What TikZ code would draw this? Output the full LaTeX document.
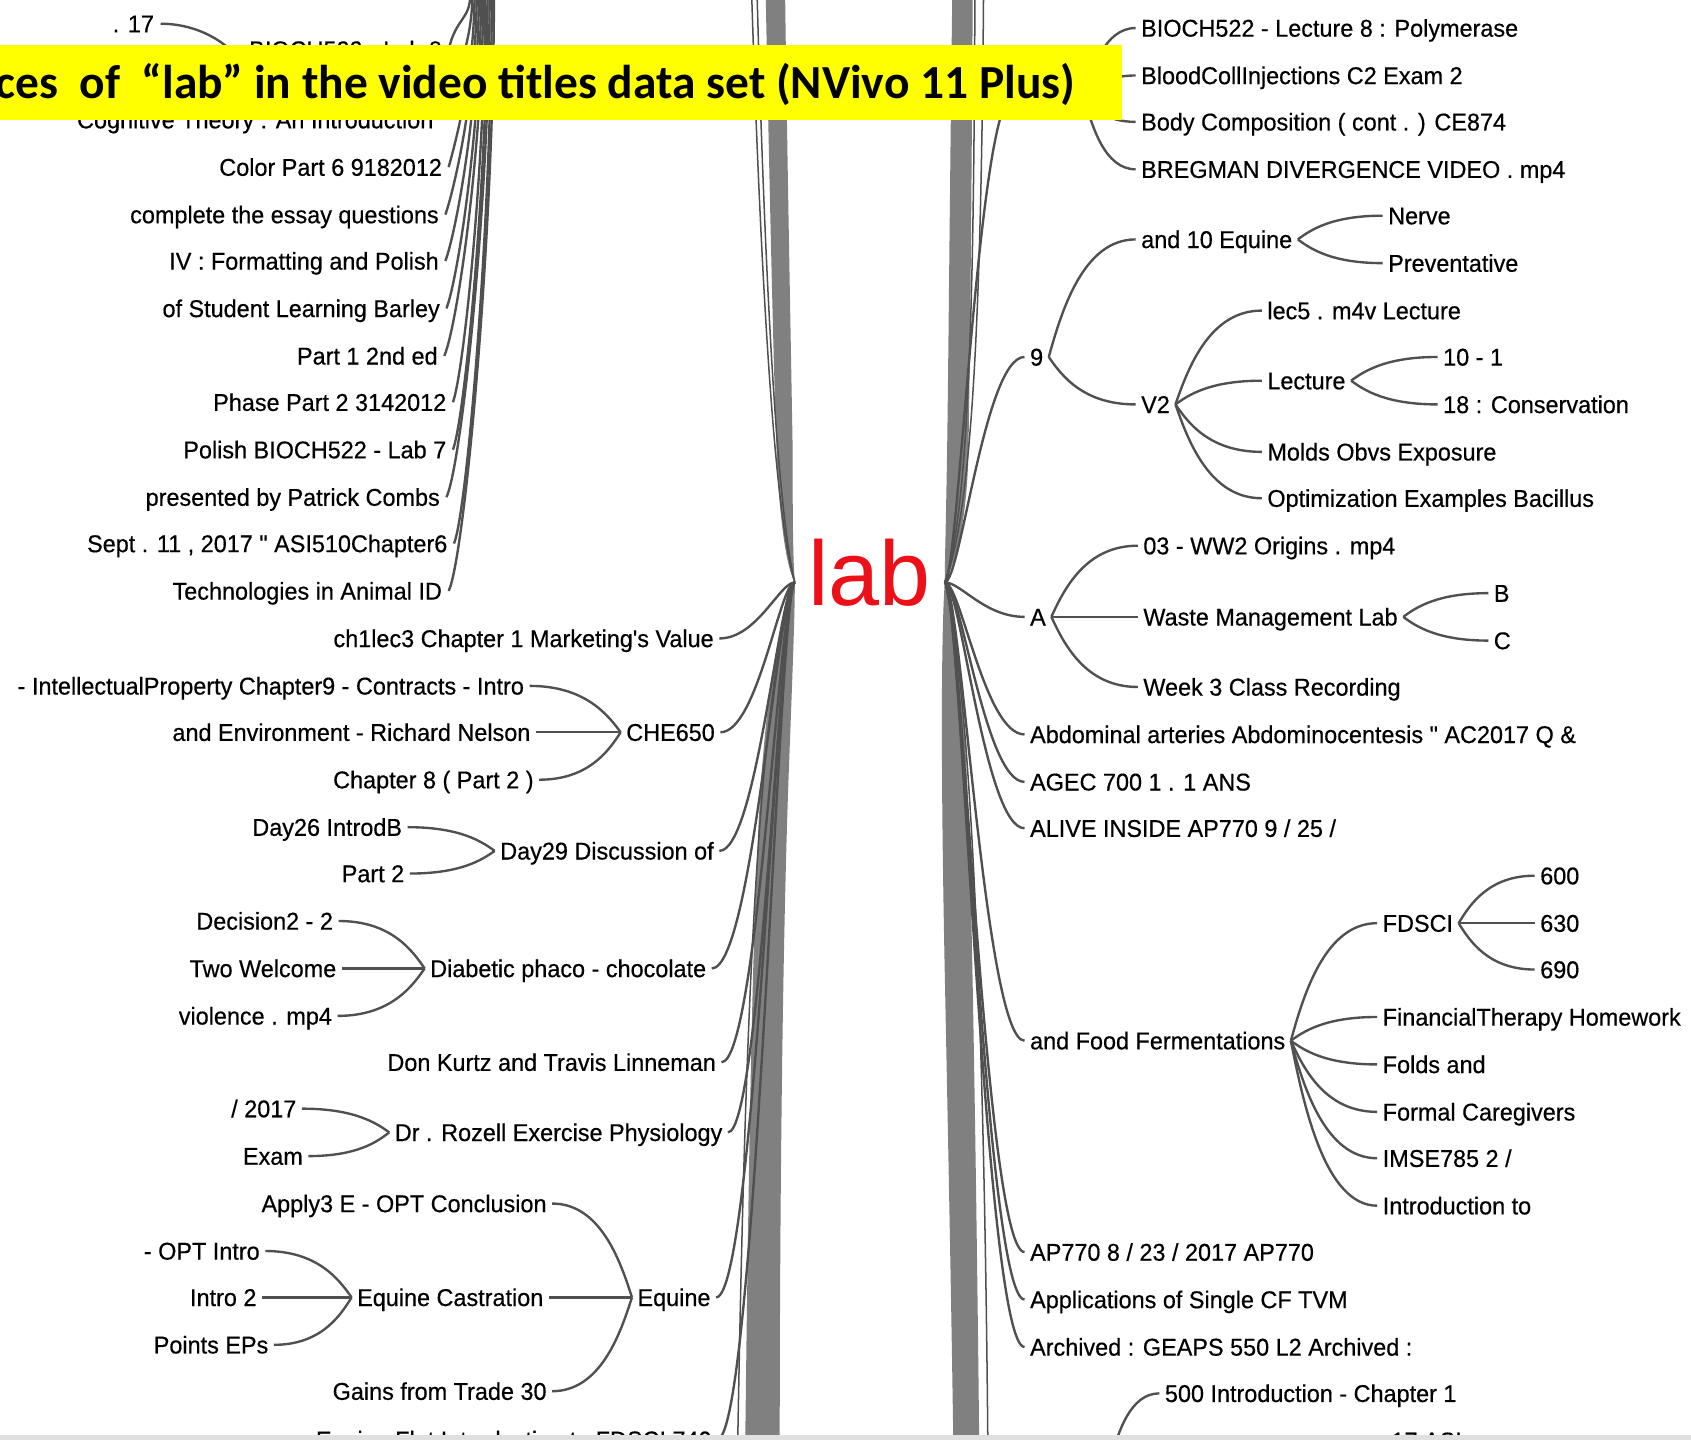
\documentclass[tikz,border=0pt]{standalone}
\usepackage{fontspec}
\setmainfont{Liberation Sans}
\newfontfamily\lblfont{Liberation Sans}[FakeStretch=0.965, FakeBold=0.45]
\newfontfamily\labfont{Liberation Sans}
\newfontfamily\titlefont{Carlito}
\usetikzlibrary{calc}
\definecolor{cgray}{RGB}{80,80,80}
\definecolor{bgray}{RGB}{128,128,128}
\definecolor{labred}{RGB}{236,16,24}
\definecolor{banneryellow}{RGB}{255,255,0}
\tikzset{
  lbl/.style={inner sep=0pt, text height=16pt, text depth=0pt, font=\lblfont\fontsize{22.5}{27}\selectfont},
  L/.style={lbl, anchor=east},
  R/.style={lbl, anchor=west},
  conn/.style={draw=cgray, line width=2.2pt},
  thinline/.style={draw=cgray, line width=1.4pt},
  band/.style={fill=bgray, draw=none},
  phantom/.style={inner sep=0pt, minimum height=16pt, minimum width=#1}
}
% left child -> parent (bracket)
\newcommand\brL[2]{\draw[conn] let \p1=($(#1.east)+(5,0)$), \p2=($(#2.west)+(-5,0)$) in (\p1) .. controls ({\x2-0.4*(\x2-\x1)},\y1) and ({\x2-0.15*(\x2-\x1)},{\y2+0.4*(\y1-\y2)}) .. (\p2);}
% right parent -> child (bracket)
\newcommand\brR[2]{\draw[conn] let \p1=($(#1.east)+(5,0)$), \p2=($(#2.west)+(-5,0)$) in (\p1) .. controls ({\x1+0.15*(\x2-\x1)},{\y1+0.4*(\y2-\y1)}) and ({\x1+0.4*(\x2-\x1)},\y2) .. (\p2);}
% left label -> hub
\newcommand\hubL[1]{\draw[conn] let \p1=($(#1.east)+(5,0)$), \p2=(hl) in (\p1) .. controls ({\x2-0.5*(\x2-\x1)},\y1) and ({\x2-0.2*(\x2-\x1)},\y2) .. (\p2);}
% hub -> right label
\newcommand\hubR[1]{\draw[conn] let \p1=(hr), \p2=($(#1.west)+(-5,0)$) in (\p1) .. controls ({\x1+0.2*(\x2-\x1)},\y1) and ({\x1+0.5*(\x2-\x1)},\y2) .. (\p2);}
% top-left label -> bundle leaving the top edge
\newcommand\upL[2]{\draw[conn] let \p1=($(#1.east)+(6,0)$) in (\p1) .. controls ({\x1+0.35*(#2pt-\x1)},{\y1+30pt}) and (#2pt,{0.4*\y1}) .. (#2pt,5pt);}

\begin{document}
\begin{tikzpicture}[x=1pt,y=-1pt]
\useasboundingbox (0,0) rectangle (1568,1335);
\clip (0,0) rectangle (1568,1335);
\fill[white] (0,0) rectangle (1568,1335);

% hubs
\coordinate (hl) at (737,540);
\coordinate (hr) at (876,540);

% ---- bands (bundles of many branches)
\fill[band] (710,-5) .. controls (713,150) and (718,380) .. (721,440) .. controls (725,500) and (731,530) .. (737,540)
  .. controls (735,515) and (735,470) .. (735,417) .. controls (733,300) and (730,150) .. (728,-5) -- cycle;
\fill[band] (737,540) .. controls (722,575) and (712,640) .. (706,720) .. controls (699,820) and (695,1000) .. (691,1340)
  -- (723,1340) .. controls (723,1100) and (726,850) .. (732,700) .. controls (735,620) and (737,570) .. (737,540) -- cycle;
\fill[band] (883,-5) .. controls (881,150) and (879,380) .. (878,430) .. controls (877,490) and (876,525) .. (876,540)
  .. controls (887,520) and (897,480) .. (898,417) .. controls (900,300) and (901,150) .. (902,-5) -- cycle;
\fill[band] (876,540) .. controls (872,600) and (873,750) .. (876,900) .. controls (879,1050) and (882,1200) .. (884,1340)
  -- (908,1340) .. controls (906,1150) and (903,950) .. (900,820) .. controls (897,700) and (891,590) .. (876,540) -- cycle;

% thin branches along the bands
\draw[thinline] (697,-5) .. controls (705,250) and (718,480) .. (hl);
\draw[thinline] (702,-5) .. controls (709,250) and (720,470) .. (hl);
\draw[thinline] (904,-5) .. controls (903,250) and (900,470) .. (hr);
\draw[thinline] (912,-5) .. controls (910,250) and (904,470) .. (hr);
\draw[thinline] (684,1340) .. controls (690,1000) and (700,650) .. (hl);
\draw[thinline] (916,1340) .. controls (913,1000) and (903,650) .. (hr);

% ---- left labels (top group)
\node[L] (l17) at (143,22) {. 17};
\node[L] (lbio8) at (410,46) {BIOCH522 - Lab 8};
\node[L] (lcog) at (402,111) {Cognitive Theory : An Introduction};
\node[L] (lcol) at (410,155) {Color Part 6 9182012};
\node[L] (lcom) at (407,199) {complete the essay questions};
\node[L] (liv) at (407,242) {IV : Formatting and Polish};
\node[L] (lstu) at (408,286) {of Student Learning Barley};
\node[L] (lp1) at (406,330) {Part 1 2nd ed};
\node[L] (lpha) at (414,373) {Phase Part 2 3142012};
\node[L] (lpol) at (414,417) {Polish BIOCH522 - Lab 7};
\node[L] (lpre) at (408,461) {presented by Patrick Combs};
\node[L] (lsep) at (415,504) {Sept . 11 , 2017 " ASI510Chapter6};
\node[L] (ltec) at (410,548) {Technologies in Animal ID};

% ---- left labels (lower)
\node[L] (lch1) at (662,592) {ch1lec3 Chapter 1 Marketing's Value};
\node[L] (lche) at (663,679) {CHE650};
\node[L] (lipr) at (486,636) {- IntellectualProperty Chapter9 - Contracts - Intro};
\node[L] (lenv) at (492,679) {and Environment - Richard Nelson};
\node[L] (lc8) at (495,723) {Chapter 8 ( Part 2 )};
\node[L] (ld29) at (662,789) {Day29 Discussion of};
\node[L] (ld26) at (373,767) {Day26 IntrodB};
\node[L] (lpt2) at (375,810) {Part 2};
\node[L] (ldia) at (655,898) {Diabetic phaco - chocolate};
\node[L] (ldec) at (309,854) {Decision2 - 2};
\node[L] (ltwo) at (312,898) {Two Welcome};
\node[L] (lvio) at (308,942) {violence . mp4};
\node[L] (ldon) at (664,985) {Don Kurtz and Travis Linneman};
\node[L] (lroz) at (670,1050) {Dr . Rozell Exercise Physiology};
\node[L] (l2017) at (275,1028) {/ 2017};
\node[L] (lexam) at (281,1072) {Exam};
\node[L] (leq) at (659,1203) {Equine};
\node[L] (lapp) at (507,1116) {Apply3 E - OPT Conclusion};
\node[L] (lcas) at (504,1203) {Equine Castration};
\node[L] (lgai) at (507,1290) {Gains from Trade 30};
\node[L] (lopt) at (241,1160) {- OPT Intro};
\node[L] (lin2) at (238,1203) {Intro 2};
\node[L] (lpts) at (249,1247) {Points EPs};
\node[L] (lflat) at (660,1335) {Equine Flat Introduction to FDSCI 740};

% ---- right labels
\node[phantom=56pt] (hid) at (972,90) {};
\node[phantom=40pt] (hidB) at (1005,1352) {};
\node[R] (rb8) at (1058,26) {BIOCH522 - Lecture 8 : Polymerase};
\node[R] (rblood) at (1058,70) {BloodCollInjections C2 Exam 2};
\node[R] (rbody) at (1058,113) {Body Composition ( cont . ) CE874};
\node[R] (rbreg) at (1058,157) {BREGMAN DIVERGENCE VIDEO . mp4};
\node[R] (r9) at (955,331) {9};
\node[R] (r10) at (1058,222) {and 10 Equine};
\node[R] (rnerve) at (1287,200) {Nerve};
\node[R] (rprev) at (1287,244) {Preventative};
\node[R] (rv2) at (1058,375) {V2};
\node[R] (rlec5) at (1175,288) {lec5 . m4v Lecture};
\node[R] (rlec) at (1175,353) {Lecture};
\node[R] (r101) at (1338,331) {10 - 1};
\node[R] (r18) at (1338,375) {18 : Conservation};
\node[R] (rmol) at (1175,419) {Molds Obvs Exposure};
\node[R] (ropt) at (1175,462) {Optimization Examples Bacillus};
\node[R] (rA) at (955,572) {A};
\node[R] (rww2) at (1060,506) {03 - WW2 Origins . mp4};
\node[R] (rwas) at (1060,572) {Waste Management Lab};
\node[R] (rB) at (1385,550) {B};
\node[R] (rC) at (1385,594) {C};
\node[R] (rwk3) at (1060,637) {Week 3 Class Recording};
\node[R] (rabd) at (955,681) {Abdominal arteries Abdominocentesis " AC2017 Q \&};
\node[R] (ragec) at (955,725) {AGEC 700 1 . 1 ANS};
\node[R] (ralive) at (955,768) {ALIVE INSIDE AP770 9 / 25 /};
\node[R] (rfood) at (955,965) {and Food Fermentations};
\node[R] (rfds) at (1282,856) {FDSCI};
\node[R] (r600) at (1428,812) {600};
\node[R] (r630) at (1428,856) {630};
\node[R] (r690) at (1428,899) {690};
\node[R] (rfin) at (1282,943) {FinancialTherapy Homework};
\node[R] (rfol) at (1282,987) {Folds and};
\node[R] (rfor) at (1282,1031) {Formal Caregivers};
\node[R] (rims) at (1282,1074) {IMSE785 2 /};
\node[R] (rint) at (1282,1118) {Introduction to};
\node[R] (rap) at (955,1161) {AP770 8 / 23 / 2017 AP770};
\node[R] (rapp) at (955,1205) {Applications of Single CF TVM};
\node[R] (rarc) at (955,1249) {Archived : GEAPS 550 L2 Archived :};
\node[R] (r500) at (1080,1292) {500 Introduction - Chapter 1};
\node[R] (r17) at (1290,1336) {17 ASI};

% centre word
\node[font=\labfont\fontsize{85}{90}\selectfont, text=labred, anchor=base, inner sep=0pt] (lab) at (806,561) {lab};

% ---- connectors, top-left group
\coordinate (h17) at (224,58);
\draw[conn] ($(l17.east)+(6,0)$) .. controls +(35,0) and +(-12,-18) .. (h17);
\upL{lbio8}{436}
\upL{lcog}{438}
\upL{lcol}{440}
\upL{lcom}{442}
\upL{liv}{444}
\upL{lstu}{446}
\upL{lp1}{448}
\upL{lpha}{450}
\upL{lpol}{452}
\upL{lpre}{454}
\upL{lsep}{456}
\upL{ltec}{458}

% ---- left connectors to hub
\hubL{lch1}
\hubL{lche}
\hubL{ld29}
\hubL{ldia}
\hubL{ldon}
\hubL{lroz}
\hubL{leq}
\hubL{lflat}
\brL{lipr}{lche}
\brL{lenv}{lche}
\brL{lc8}{lche}
\brL{ld26}{ld29}
\brL{lpt2}{ld29}
\brL{ldec}{ldia}
\brL{ltwo}{ldia}
\brL{lvio}{ldia}
\brL{l2017}{lroz}
\brL{lexam}{lroz}
\brL{lapp}{leq}
\brL{lcas}{leq}
\brL{lgai}{leq}
\brL{lopt}{lcas}
\brL{lin2}{lcas}
\brL{lpts}{lcas}

% ---- right connectors
\hubR{hid}
\hubR{r9}
\hubR{rA}
\hubR{rabd}
\hubR{ragec}
\hubR{ralive}
\hubR{rfood}
\hubR{rap}
\hubR{rapp}
\hubR{rarc}
\brR{hid}{rb8}
\brR{hid}{rblood}
\brR{hid}{rbody}
\brR{hid}{rbreg}
\brR{r9}{r10}
\brR{r9}{rv2}
\brR{r10}{rnerve}
\brR{r10}{rprev}
\brR{rv2}{rlec5}
\brR{rv2}{rlec}
\brR{rv2}{rmol}
\brR{rv2}{ropt}
\brR{rlec}{r101}
\brR{rlec}{r18}
\brR{rA}{rww2}
\brR{rA}{rwas}
\brR{rA}{rwk3}
\brR{rwas}{rB}
\brR{rwas}{rC}
\brR{rfood}{rfds}
\brR{rfood}{rfin}
\brR{rfood}{rfol}
\brR{rfood}{rfor}
\brR{rfood}{rims}
\brR{rfood}{rint}
\brR{rfds}{r600}
\brR{rfds}{r630}
\brR{rfds}{r690}
\brR{hidB}{r500}

% ---- title banner
\fill[fill=banneryellow] (0,42) rectangle (1040,111);
\node[anchor=base east, inner sep=0pt, text=black, font=\titlefont\bfseries\fontsize{44}{50}\selectfont] (title) at (997,91)
  {ces\ \ of\ \ “lab” in the video titles data set (NVivo 11 Plus)};

% ---- bottom edge strip
\fill[black!12] (0,1331) rectangle (1568,1336);
\end{tikzpicture}
\end{document}
